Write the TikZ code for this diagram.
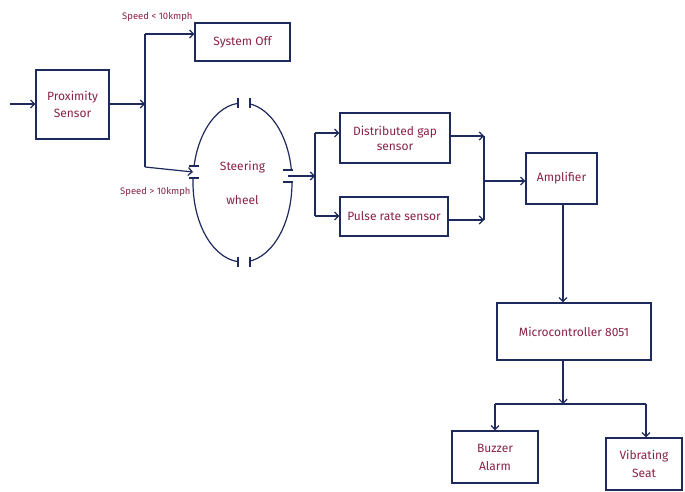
\documentclass[tikz,border=0pt]{standalone}
\usepackage{fontspec}
\setmainfont{Fira Sans}
\usetikzlibrary{arrows.meta,shapes.geometric}
\definecolor{inkline}{HTML}{1F2A5C}
\definecolor{inktext}{HTML}{8A2246}
\tikzset{
  x=1pt, y=-1pt,
  blk/.style={draw=inkline, line width=1.2pt, rectangle, inner sep=0pt, text=inktext, font=\fontsize{12}{15}\selectfont, align=center},
  wire/.style={draw=inkline, line width=1.2pt},
  arr/.style={wire, -{Straight Barb[length=4pt,width=8pt,line width=1.2pt]}},
  lbl/.style={text=inktext, font=\fontsize{9.5}{11}\selectfont, inner sep=0pt},
  tick/.style={draw=inkline, line width=1.2pt},
}
\begin{document}
\begin{tikzpicture}
\path[use as bounding box, fill=white] (0,0) rectangle (685,492);

% boxes
\node[blk, minimum width=73pt, minimum height=69pt] (prox) at (72.5,104.5) {Proximity\\[2pt]Sensor};
\node[blk, minimum width=95pt, minimum height=38pt] (off) at (242.5,42) {System Off};
\node[ellipse, draw=inkline, line width=1.2pt, minimum width=99pt, minimum height=159pt, inner sep=0pt, text=inktext, font=\fontsize{12}{22}\selectfont, align=center] (wheel) at (242.5,182.5) {Steering\\[12pt]wheel};
\node[blk, minimum width=110pt, minimum height=50pt] (gap) at (395,138) {Distributed gap\\sensor};
\node[blk, minimum width=108pt, minimum height=39pt] (pulse) at (394,216.5) {Pulse rate sensor};
\node[blk, minimum width=71pt, minimum height=51pt] (amp) at (561.5,178.5) {Amplifier};
\node[blk, minimum width=154pt, minimum height=57pt] (mcu) at (574,331.5) {Microcontroller 8051};
\node[blk, minimum width=86pt, minimum height=52pt] (buzz) at (495,457) {Buzzer\\[3pt]Alarm};
\node[blk, minimum width=76pt, minimum height=52pt] (seat) at (644,464) {Vibrating\\[3pt]Seat};

% gaps in the steering wheel
\fill[white] (238,97) rectangle (250,110);
\fill[white] (238,255) rectangle (250,268);
\fill[white] (186,166) rectangle (200,178);
\fill[white] (280,170) rectangle (298,182);
\draw[tick] (238,98) -- (238,108);
\draw[tick] (250,98) -- (250,108);
\draw[tick] (238,257) -- (238,267);
\draw[tick] (250,257) -- (250,267);
\draw[tick] (189,166) -- (199,166);
\draw[tick] (189,178) -- (199,178);
\draw[tick] (283,170) -- (293,170);
\draw[tick] (283,182) -- (293,182);

% input
\coordinate (in) at (10,104);
\draw[arr] (in) -- (prox.west |- in);

% proximity split
\coordinate (j1) at (145,104);
\coordinate (j1t) at (145,34);
\coordinate (j1b) at (145,167);
\coordinate (wl) at (193,172);
\draw[arr] (prox.east |- j1) -- (j1);
\draw[wire] (j1t) -- (j1b);
\draw[arr] (j1t) -- (off.west |- j1t);
\draw[arr] (j1b) -- (wl);
\node[lbl, anchor=south west] (slow) at (122,22) {Speed < 10kmph};
\node[lbl, anchor=north west] (fast) at (120,187) {Speed > 10kmph};

% wheel to sensors
\coordinate (wr) at (288,176);
\coordinate (j2) at (315,176);
\coordinate (j2t) at (315,133);
\coordinate (j2b) at (315,216);
\draw[arr] (wr) -- (j2);
\draw[wire] (j2t) -- (j2b);
\draw[arr] (j2t) -- (gap.west |- j2t);
\draw[arr] (j2b) -- (pulse.west |- j2b);

% sensors to amplifier
\coordinate (j3t) at (484,136);
\coordinate (j3b) at (484,220);
\coordinate (j3) at (484,181);
\draw[wire] (j3t) -- (j3b);
\draw[arr] (gap.east |- j3t) -- (j3t);
\draw[arr] (pulse.east |- j3b) -- (j3b);
\draw[arr] (j3) -- (amp.west |- j3);

% amplifier to microcontroller
\draw[arr] (amp.south -| 563,0) -- (mcu.north -| 563,0);

% microcontroller to outputs
\coordinate (j4) at (563,404);
\coordinate (j4l) at (495,404);
\coordinate (j4r) at (646,404);
\draw[arr] (mcu.south -| j4) -- (j4);
\draw[wire] (j4l) -- (j4r);
\draw[arr] (j4l) -- (buzz.north -| j4l);
\draw[arr] (j4r) -- (seat.north -| j4r);
\end{tikzpicture}
\end{document}
